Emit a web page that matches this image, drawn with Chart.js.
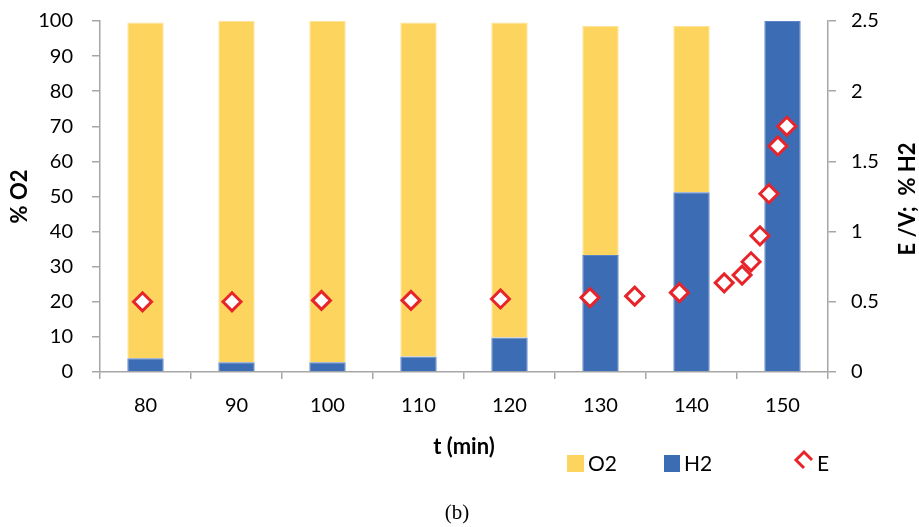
<!DOCTYPE html>
<html lang="en">
<head>
  <meta charset="UTF-8">
  <title>O2 / H2 and E vs time</title>
  <style>
    body {
      margin: 0;
      background: #ffffff;
    }
    .chart-container {
      position: relative;
      width: 919px;
      height: 527px;
    }
  </style>
</head>
<body>
  <div class="chart-container">
    <canvas id="mixChart" width="919" height="527"></canvas>
  </div>

  <script src="https://cdn.jsdelivr.net/npm/chart.js"></script>
  <script>
    // Bar data (left axis, %)
    const times = ['80', '90', '100', '110', '120', '130', '140', '150'];
    const h2Values = [3.9, 2.8, 2.8, 4.4, 9.8, 33.3, 51.2, 100];
    const o2Values = [95.7, 97.2, 97.2, 95.2, 89.8, 65.3, 47.4, 0];

    // E points (right axis, V) at their own times
    const eTimes = [80, 90, 100, 110, 120, 130, 135, 140, 145, 147, 148, 149, 150, 151, 152];
    const eValues = [0.50, 0.50, 0.51, 0.51, 0.52, 0.53, 0.54, 0.565, 0.635, 0.69, 0.785, 0.97, 1.27, 1.61, 1.75];

    const leftTicks = [0, 10, 20, 30, 40, 50, 60, 70, 80, 90, 100];
    const rightTicks = [0, 0.5, 1, 1.5, 2, 2.5];
    const rightTickLabels = ['0', '0.5', '1', '1.5', '2', '2.5'];

    const YELLOW = '#FDD55E';
    const BLUE = '#3C6CB4';
    const RED = '#E8242B';
    const AXIS = '#A6A6A6';
    const FONT = 'Lato';

    // extra texts: right axis title, legend, caption
    const extras = {
      id: 'extras',
      afterDraw(chart) {
        const ctx = chart.ctx;
        ctx.save();
        ctx.fillStyle = '#000';
        ctx.textBaseline = 'middle';

        // right axis title, reading bottom to top
        ctx.save();
        ctx.translate(908, 199);
        ctx.rotate(-Math.PI / 2);
        ctx.textAlign = 'center';
        ctx.font = 'bold 22px ' + FONT;
        ctx.fillText('E /V;  % H2', 0, 0);
        ctx.restore();

        // legend
        const ds = chart.data.datasets;
        ctx.font = '21px ' + FONT;
        ctx.textAlign = 'left';
        ctx.fillStyle = YELLOW;
        ctx.fillRect(567, 455, 17, 17);
        ctx.fillStyle = BLUE;
        ctx.fillRect(664, 455, 16, 17);
        ctx.fillStyle = '#000';
        ctx.fillText(ds[1].label, 588, 464);
        ctx.fillText(ds[0].label, 684, 464);
        ctx.fillText(ds[2].label, 817, 464);

        ctx.strokeStyle = RED;
        ctx.lineWidth = 3;
        ctx.lineJoin = 'miter';
        ctx.beginPath();
        ctx.moveTo(804, 468);
        ctx.lineTo(796, 460);
        ctx.lineTo(804, 452);
        ctx.lineTo(812, 460);
        ctx.stroke();

        // caption
        ctx.font = '21px "Liberation Serif"';
        ctx.textAlign = 'center';
        ctx.fillText('(b)', 457, 513);
        ctx.restore();
      }
    };

    const ctx = document.getElementById('mixChart').getContext('2d');
    new Chart(ctx, {
      type: 'bar',
      data: {
        labels: times,
        datasets: [
          {
            label: 'H2',
            data: h2Values,
            grouped: false,
            backgroundColor: BLUE,
            borderColor: '#5B84C4',
            borderWidth: 1,
            xAxisID: 'x',
            yAxisID: 'y',
            order: 2
          },
          {
            label: 'O2',
            data: o2Values,
            grouped: false,
            backgroundColor: YELLOW,
            borderColor: '#FEE397',
            borderWidth: 1,
            xAxisID: 'x',
            yAxisID: 'y',
            order: 2
          },
          {
            type: 'scatter',
            label: 'E',
            data: eTimes.map((t, i) => ({ x: t, y: eValues[i] })),
            xAxisID: 'x2',
            yAxisID: 'y2',
            pointStyle: 'rectRot',
            pointRadius: 9,
            pointBorderWidth: 3,
            borderColor: RED,
            backgroundColor: '#ffffff',
            order: 0
          }
        ]
      },
      options: {
        responsive: false,
        animation: false,
        layout: { padding: { top: 21, bottom: 67, left: 0, right: 0 } },
        datasets: {
          bar: { barPercentage: 0.4, categoryPercentage: 1.0 }
        },
        plugins: {
          legend: { display: false },
          tooltip: { enabled: false }
        },
        scales: {
          x: {
            stacked: true,
            offset: true,
            grid: { offset: true, drawOnChartArea: false, color: AXIS, tickLength: 7, lineWidth: 1.5 },
            border: { color: AXIS, width: 1.5 },
            ticks: { color: '#000', font: { family: FONT, size: 20 }, padding: 15, maxRotation: 0 },
            title: { display: true, text: 't (min)', color: '#000', font: { family: FONT, size: 22, weight: 'bold' }, padding: { top: 0, bottom: 0 } },
            afterFit(scale) { scale.height = 88; scale.paddingLeft = 0; scale.paddingRight = 0; }
          },
          x2: {
            type: 'linear',
            display: false,
            offset: false,
            stacked: false,
            grid: { offset: false },
            min: 75.25,
            max: 156.6
          },
          y: {
            stacked: true,
            position: 'left',
            min: 0,
            max: 100,
            afterBuildTicks(scale) { scale.ticks = leftTicks.map(v => ({ value: v })); },
            grid: { drawOnChartArea: false, color: AXIS, tickLength: 8, lineWidth: 1.5 },
            border: { color: AXIS, width: 1.5 },
            ticks: { color: '#000', font: { family: FONT, size: 20 }, padding: 19 },
            title: { display: true, text: '% O2', color: '#000', font: { family: FONT, size: 22, weight: 'bold' }, padding: { top: 7, bottom: 0 } },
            afterFit(scale) { scale.width = 100; scale.paddingTop = 0; scale.paddingBottom = 0; }
          },
          y2: {
            position: 'right',
            stacked: false,
            min: 0,
            max: 2.5,
            afterBuildTicks(scale) { scale.ticks = rightTicks.map(v => ({ value: v })); },
            grid: { drawOnChartArea: false, color: AXIS, tickLength: 8, lineWidth: 1.5 },
            border: { color: AXIS, width: 1.5 },
            ticks: {
              color: '#000',
              font: { family: FONT, size: 20 },
              padding: 15,
              callback: (v, i) => rightTickLabels[i]
            },
            afterFit(scale) { scale.width = 91; scale.paddingTop = 0; scale.paddingBottom = 0; }
          }
        }
      },
      plugins: [extras]
    });
  </script>
</body>
</html>
